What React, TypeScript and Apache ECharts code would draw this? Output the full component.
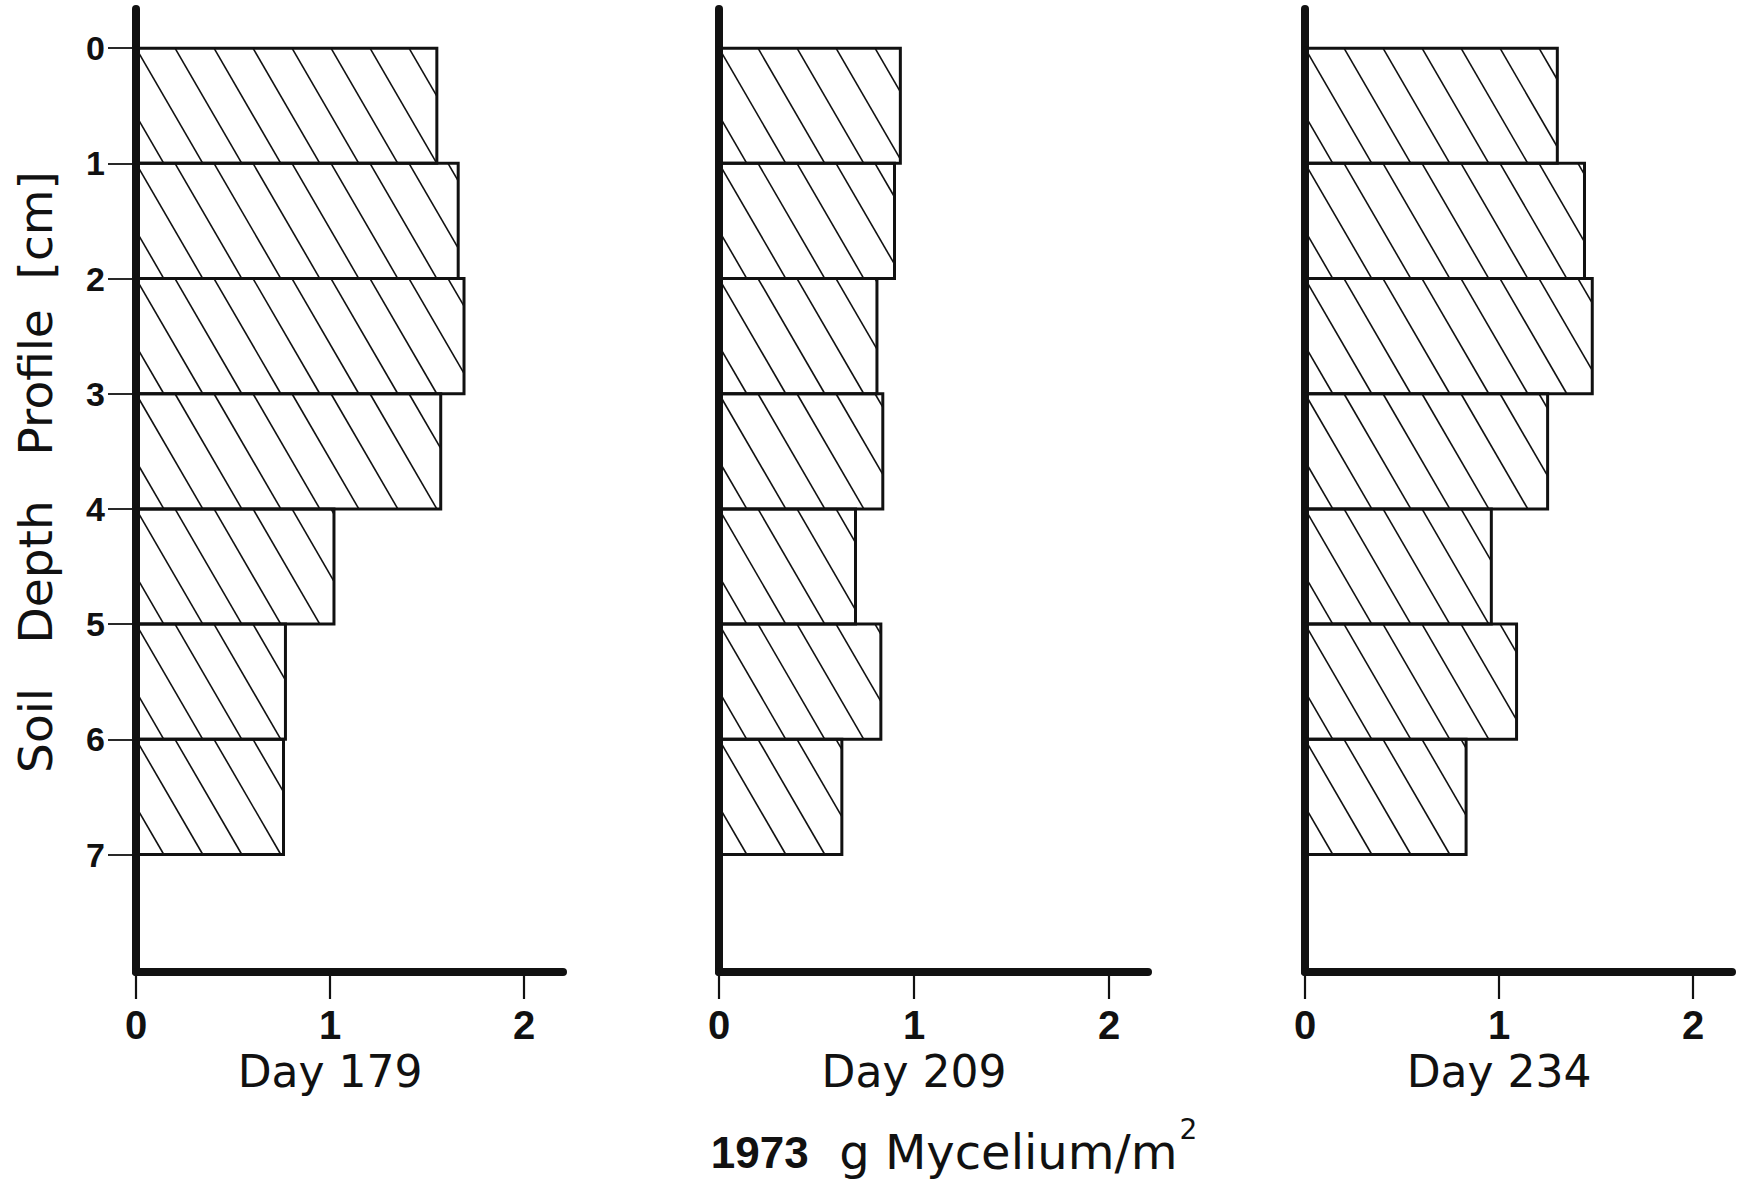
import React, { useEffect, useRef } from "react";
import * as echarts from "echarts";

// Depth intervals (cm) — each bar spans [start, start + 1]
const depthStart = [0, 1, 2, 3, 4, 5, 6];
// g Mycelium / m² per depth layer, 1973
const day179 = [1.55, 1.66, 1.69, 1.57, 1.02, 0.77, 0.76];
const day209 = [0.93, 0.9, 0.81, 0.84, 0.7, 0.83, 0.63];
const day234 = [1.3, 1.44, 1.48, 1.25, 0.96, 1.09, 0.83];
const panelTitles = ["Day 179", "Day 209", "Day 234"];
const depthTicks = [0, 1, 2, 3, 4, 5, 6, 7];
const massTicks = [0, 1, 2];
const yTitle = "Soil   Depth   Profile  [cm]";
const titleYear = "1973";
const titleUnit = "  g Mycelium/m";
const titleSup = "2";

const X_MAX = 2.2;
const Y_MIN = -0.34;
const Y_MAX = 8.02;

const grids = [
  { left: 136, top: 9, width: 427, height: 963 },
  { left: 719, top: 9, width: 429, height: 963 },
  { left: 1305, top: 9, width: 427, height: 963 },
];

const HATCH_SPACING = 39;
const HATCH_SLOPE = 0.58; // dx per dy

const FONT_YEAR = "bold 44px 'Liberation Sans Narrow', 'Liberation Sans'";
const FONT_UNIT = "48px 'DejaVu Sans'";
const FONT_SUP = "28px 'DejaVu Sans'";

function measure(font: string, text: string) {
  const c = document.createElement("canvas");
  const ctx = c.getContext("2d");
  if (!ctx) return text.length * 20;
  ctx.font = font;
  return ctx.measureText(text).width;
}

function renderHatchedBar(params: any, api: any) {
  const d0 = api.value(0);
  const d1 = api.value(1);
  const v = api.value(2);
  const p0 = api.coord([0, d0]);
  const p1 = api.coord([v, d1]);
  const x0 = p0[0];
  const y0 = p0[1];
  const x1 = p1[0];
  const y1 = p1[1];
  const w = x1 - x0;
  const h = y1 - y0;
  const children: any[] = [];
  const run = HATCH_SLOPE * h;
  const kMin = -Math.ceil(run / HATCH_SPACING);
  const kMax = Math.floor(w / HATCH_SPACING);
  for (let k = kMin; k <= kMax; k++) {
    const xt = x0 + k * HATCH_SPACING;
    const tMin = Math.max(0, (x0 - xt) / run);
    const tMax = Math.min(1, (x1 - xt) / run);
    if (tMin < tMax) {
      children.push({
        type: "line",
        shape: {
          x1: xt + run * tMin,
          y1: y0 + h * tMin,
          x2: xt + run * tMax,
          y2: y0 + h * tMax,
        },
        style: { stroke: "#111", lineWidth: 1.6 },
      });
    }
  }
  children.push({
    type: "rect",
    shape: { x: x0, y: y0, width: w, height: h },
    style: { fill: "none", stroke: "#111", lineWidth: 3 },
  });
  return { type: "group", children };
}

export default function App() {
  const ref = useRef<HTMLDivElement>(null);

  useEffect(() => {
    document.body.style.margin = "0";
    if (!ref.current) return;
    const chart = echarts.init(ref.current, null, { renderer: "svg" });
    const seriesValues = [day179, day209, day234];

    const xAxes = grids.map((_, i) => ({
      gridIndex: i,
      type: "value",
      min: 0,
      max: X_MAX,
      axisLine: {
        show: true,
        onZero: false,
        lineStyle: { color: "#111", width: 8, cap: "round" },
      },
      axisTick: {
        show: true,
        customValues: massTicks,
        length: 27,
        lineStyle: { color: "#111", width: 2.2 },
      },
      axisLabel: {
        show: true,
        customValues: massTicks,
        margin: 33,
        fontSize: 40,
        fontWeight: "bold",
        color: "#111",
        fontFamily: "Liberation Sans",
      },
      splitLine: { show: false },
    }));

    const yAxes = grids.map((_, i) => ({
      gridIndex: i,
      type: "value",
      inverse: true,
      min: Y_MIN,
      max: Y_MAX,
      axisLine: {
        show: true,
        onZero: false,
        lineStyle: { color: "#111", width: 8, cap: "round" },
      },
      axisTick: {
        show: i === 0,
        customValues: depthTicks,
        length: 28,
        lineStyle: { color: "#111", width: 1.8 },
      },
      axisLabel: {
        show: i === 0,
        customValues: depthTicks,
        margin: 31,
        fontSize: 34,
        fontWeight: "bold",
        color: "#111",
        fontFamily: "Liberation Sans",
      },
      splitLine: { show: false },
    }));

    const series = seriesValues.map((vals, i) => ({
      type: "custom",
      name: panelTitles[i],
      xAxisIndex: i,
      yAxisIndex: i,
      renderItem: renderHatchedBar,
      encode: { x: 2, y: [0, 1] },
      data: depthStart.map((d, j) => [d, d + 1, vals[j]]),
      clip: false,
    }));

    const dayLabels = grids.map((g, i) => ({
      type: "text",
      x: g.left + g.width / X_MAX,
      y: 1071,
      style: {
        text: panelTitles[i],
        fontFamily: "DejaVu Sans",
        fontSize: 44,
        fill: "#111",
        textAlign: "center",
        textVerticalAlign: "middle",
      },
    }));

    const wYear = measure(FONT_YEAR, titleYear);
    const wUnit = measure(FONT_UNIT, titleUnit);
    const wSup = measure(FONT_SUP, titleSup);
    const startX = 953 - (wYear + wUnit + wSup) / 2;

    chart.setOption({
      animation: false,
      backgroundColor: "#ffffff",
      grid: grids.map((g) => ({ ...g, containLabel: false })),
      xAxis: xAxes,
      yAxis: yAxes,
      series,
      graphic: [
        ...dayLabels,
        {
          type: "text",
          x: 35,
          y: 472,
          rotation: Math.PI / 2,
          style: {
            text: yTitle,
            fontFamily: "DejaVu Sans",
            fontSize: 47,
            fill: "#111",
            textAlign: "center",
            textVerticalAlign: "middle",
          },
        },
        {
          type: "text",
          x: startX,
          y: 1152,
          style: {
            text: "{b|" + titleYear + "}{r|" + titleUnit + "}",
            fill: "#111",
            textAlign: "left",
            textVerticalAlign: "middle",
            rich: {
              b: {
                fontFamily: "'Liberation Sans Narrow', 'Liberation Sans'",
                fontWeight: "bold",
                fontSize: 44,
                fill: "#111",
              },
              r: { fontFamily: "DejaVu Sans", fontSize: 48, fill: "#111" },
            },
          },
        },
        {
          type: "text",
          x: startX + wYear + wUnit + 2,
          y: 1129,
          style: {
            text: titleSup,
            fontFamily: "DejaVu Sans",
            fontSize: 28,
            fill: "#111",
            textAlign: "left",
            textVerticalAlign: "middle",
          },
        },
      ],
    });

    return () => chart.dispose();
  }, []);

  return <div ref={ref} style={{ width: 1746, height: 1182 }} />;
}
